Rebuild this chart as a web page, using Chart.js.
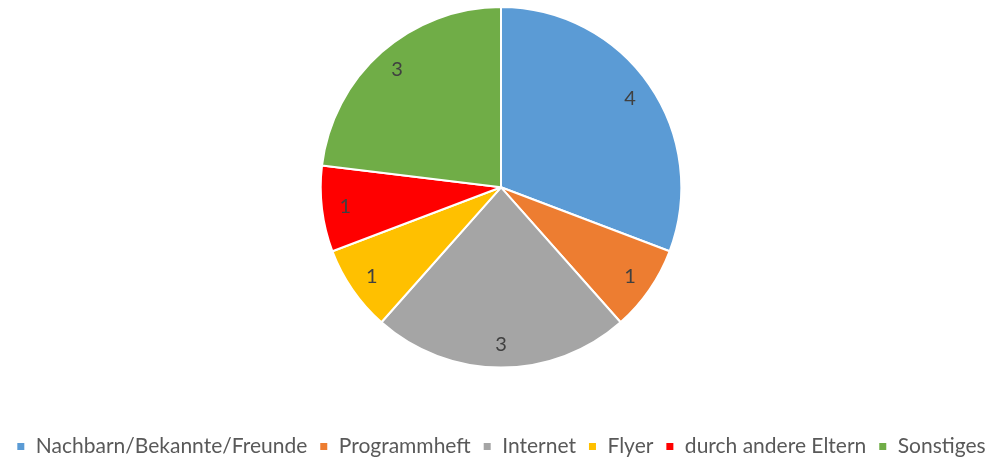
<!DOCTYPE html>
<html><head><meta charset="utf-8">
<script src="https://cdn.jsdelivr.net/npm/chart.js@4/dist/chart.umd.min.js"></script>
<style>html,body{margin:0;padding:0;background:#fff;}#wrap{width:1008px;height:461px;}</style>
</head><body><div id="wrap"><canvas id="c" width="1008" height="461"></canvas></div>
<script>
const categories = ["Nachbarn/Bekannte/Freunde","Programmheft","Internet","Flyer","durch andere Eltern","Sonstiges"];
const values = [4,1,3,1,1,3];
const colors = ["#5B9BD5","#ED7D31","#A5A5A5","#FFC000","#FF0000","#70AD47"];

const labelPlugin = {
  id: 'sliceLabels',
  afterDatasetsDraw(chart) {
    const ctx = chart.ctx;
    const meta = chart.getDatasetMeta(0);
    ctx.save();
    ctx.font = '20px Lato, "Open Sans", sans-serif';
    ctx.fillStyle = '#404040';
    ctx.textAlign = 'center';
    ctx.textBaseline = 'middle';
    meta.data.forEach((arc, i) => {
      const p = arc.getProps(['x','y','startAngle','endAngle','outerRadius'], true);
      const mid = (p.startAngle + p.endAngle) / 2;
      const r = p.outerRadius * 0.87;
      ctx.fillText(String(values[i]), p.x + Math.cos(mid) * r, p.y + Math.sin(mid) * r);
    });
    ctx.restore();
  }
};

new Chart(document.getElementById('c'), {
  type: 'pie',
  data: {
    labels: categories,
    datasets: [{ data: values, backgroundColor: colors, borderColor: '#ffffff', borderWidth: 2 }]
  },
  options: {
    responsive: false,
    animation: false,
    layout: { padding: { top: 6, bottom: -6, right: 6 } },
    plugins: {
      tooltip: { enabled: false },
      legend: {
        position: 'bottom',
        title: { display: true, text: ' ', font: { size: 12 }, padding: { top: 28, bottom: 13 } },
        labels: {
          boxWidth: 9, boxHeight: 9,
          padding: 12,
          color: '#595959',
          font: { size: 21, family: 'Lato, "Open Sans", sans-serif' }
        }
      }
    }
  },
  plugins: [labelPlugin]
});
</script></body></html>
